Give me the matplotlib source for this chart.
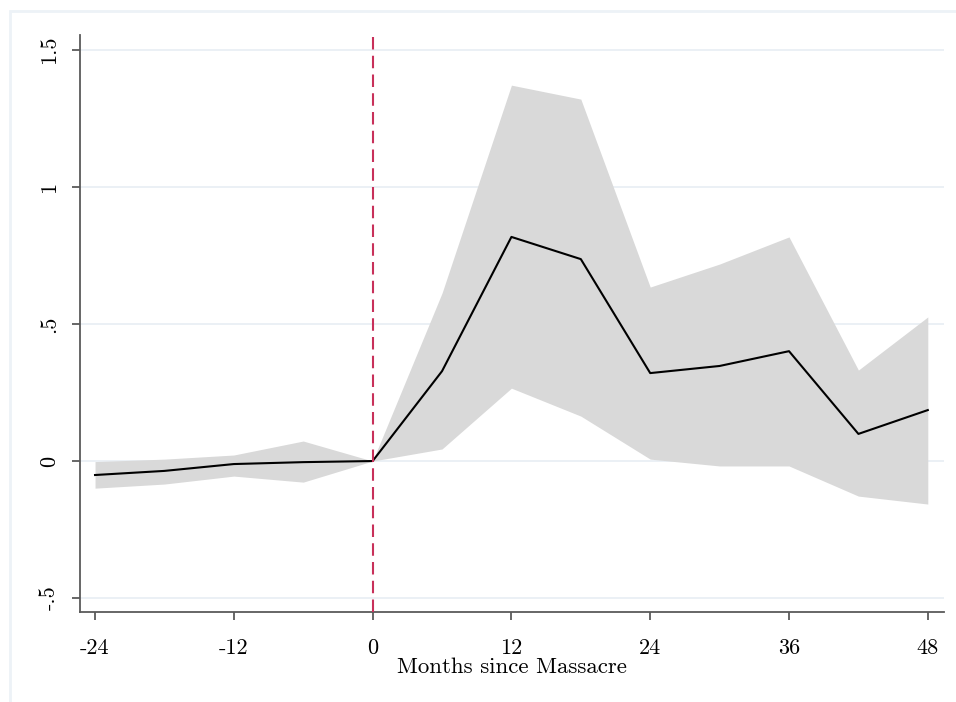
import numpy as np
import matplotlib.pyplot as plt
from matplotlib.patches import Rectangle

months = [-24, -18, -12, -6, 0, 6, 12, 18, 24, 30, 36, 42, 48]
coef = [-0.051, -0.036, -0.011, -0.004, 0.0, 0.328, 0.818, 0.737, 0.321, 0.347, 0.401, 0.099, 0.186]
upper = [-0.002, 0.007, 0.022, 0.073, 0.0, 0.613, 1.372, 1.321, 0.635, 0.719, 0.818, 0.332, 0.526]
lower = [-0.099, -0.084, -0.055, -0.077, 0.0, 0.044, 0.266, 0.164, 0.007, -0.018, -0.018, -0.128, -0.157]

xticks = [-24, -12, 0, 12, 24, 36, 48]
yticks = [-0.5, 0, 0.5, 1, 1.5]
yticklabels = ['-.5', '0', '.5', '1', '1.5']

plt.rcParams['font.family'] = ['cmr10', 'DejaVu Serif']

fig = plt.figure(figsize=(9.56, 7.02), dpi=100)
fig.patches.append(Rectangle((10 / 956, -0.01), 1.2, 691 / 702 + 0.01, transform=fig.transFigure,
                             fill=False, edgecolor='#edf2f7', lw=2))
ax = fig.add_axes([80 / 956, 1 - 612 / 702, 864 / 956, 577 / 702])

ax.fill_between(months, lower, upper, color='#d9d9d9', lw=0, zorder=1)
ax.plot(months, coef, color='black', lw=1.5, zorder=3)
ax.axvline(0, color='#c8305a', lw=1.5, ls=(0, (6, 3)), zorder=4)

ax.set_xlim(-25.3, 49.4)
ax.set_ylim(-0.551, 1.555)
ax.set_xticks(xticks)
ax.set_xticklabels([str(x) for x in xticks])
ax.set_yticks(yticks)
ax.set_yticklabels(yticklabels, rotation=90, va='center')
ax.grid(axis='y', color='#e8eef3', lw=1.2, zorder=0)
ax.set_axisbelow(True)

for s in ['top', 'right']:
    ax.spines[s].set_visible(False)
for s in ['left', 'bottom']:
    ax.spines[s].set_color('#5a5a5a')
    ax.spines[s].set_linewidth(1.3)
ax.tick_params(colors='#5a5a5a', labelcolor='black', length=6, width=1.3, labelsize=16)
ax.tick_params(axis='x', pad=13)
ax.tick_params(axis='y', pad=9)

ax.set_xlabel('Months since Massacre', fontsize=16.5, labelpad=0)

fig.savefig('out.png', dpi=100)
